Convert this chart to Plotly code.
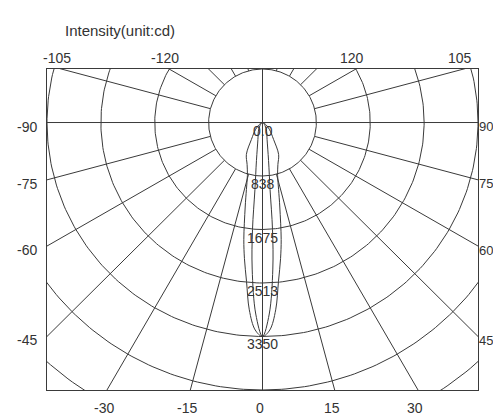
import numpy as np
import plotly.graph_objects as go

# Luminous intensity distribution (cd), angle measured from the beam axis (downwards)
outer_deg = [0, 2, 4, 5.7, 7.5, 9, 11.5, 13.4, 15.8, 20, 26.6, 33, 45, 60, 90]
outer_cd = [3350, 3250, 2940, 2500, 2150, 1856, 1350, 1080, 862, 700, 560, 316, 150, 50, 0]

inner_deg = [0, 2, 4, 5.3, 6.4, 9, 15, 25, 40, 90]
inner_cd = [3350, 3000, 2300, 1685, 1055, 600, 275, 150, 60, 0]

# Intensity rings and their labels
ring_values = [0, 838, 1675, 2513, 3350]
ring_labels = ["0.0", "838", "1675", "2513", "3350"]
ring_step = 837.5
ring_count = 6

# Angle grid and the tick labels along each border
spoke_step = 15
bottom_ticks = [-30, -15, 0, 15, 30]
side_ticks = [-90, -75, -60, -45, 45, 60, 75, 90]
top_ticks = [-105, -120, 120, 105]

# Visible window in intensity units
x_lim = 3350
y_top = 838
y_bot = -4188

LINE = "#3a3a3a"
TEXT = "#333333"
FONT = "Liberation Sans, Arial, sans-serif"


def to_xy(deg, r):
    t = np.radians(np.asarray(deg, dtype=float))
    r = np.asarray(r, dtype=float)
    return r * np.sin(t), -r * np.cos(t)


fig = go.Figure()


def add_line(x, y, width=1.0, shape="linear"):
    fig.add_trace(go.Scatter(x=x, y=y, mode="lines", hoverinfo="skip",
                             line=dict(color=LINE, width=width, shape=shape),
                             showlegend=False))


# rings
full = np.linspace(0, 360, 361)
for k in range(1, ring_count + 1):
    x, y = to_xy(full, np.full_like(full, k * ring_step))
    add_line(x, y)

# spokes, starting at the first ring
for a in range(spoke_step, 180, spoke_step):
    if a == 90:
        continue
    for s in (-1, 1):
        x, y = to_xy([s * a, s * a], [ring_step, 8000])
        add_line(x, y)

# main cross through the origin
add_line([-x_lim, x_lim], [0, 0])
add_line([0, 0], [y_bot, y_top])

# distribution curves, mirrored about the beam axis
for deg, cd in ((outer_deg, outer_cd), (inner_deg, inner_cd)):
    d = [-v for v in deg[::-1]] + deg[1:]
    c = cd[::-1] + cd[1:]
    x, y = to_xy(d, c)
    add_line(x, y, width=1.0, shape="spline")

ann = []
tfont = dict(family=FONT, size=14, color=TEXT)

# intensity labels on the axis
for v, lab in zip(ring_values, ring_labels):
    ann.append(dict(x=0, y=-v, text=lab, showarrow=False, font=tfont,
                    xanchor="center", yanchor="middle", yshift=-8))

# bottom border labels
for a in bottom_ticks:
    xb = -y_bot * np.tan(np.radians(a))
    ann.append(dict(x=xb, y=y_bot, text=str(a), showarrow=False, font=tfont,
                    xanchor="center", yanchor="top", yshift=-8, xshift=-3))

# left / right border labels
for a in side_ticks:
    s = 1 if a > 0 else -1
    r = x_lim / abs(np.sin(np.radians(a)))
    yb = -r * np.cos(np.radians(a))
    ann.append(dict(x=s * x_lim, y=yb, text=str(a), showarrow=False,
                    font=dict(family=FONT, size=14 if s < 0 else 13, color=TEXT),
                    xanchor="left" if s > 0 else "right", yanchor="middle",
                    xshift=-1 if s > 0 else -8, yshift=-4))

# top border labels
for a in top_ticks:
    r = -y_top / np.cos(np.radians(a))
    xb = r * np.sin(np.radians(a))
    ann.append(dict(x=xb, y=y_top, text=str(a), showarrow=False, font=tfont,
                    xanchor="center", yanchor="bottom", yshift=1, xshift=-4))

# title, positioned in pixels and converted to paper coordinates
plot_w = 493 - 47 - 15
plot_h = 415 - 69 - 25
ann.append(dict(x=(63 - 47) / plot_w, y=(415 - 25 - 30) / plot_h,
                xref="paper", yref="paper", text="Intensity(unit:cd)",
                showarrow=False, font=dict(family=FONT, size=15, color=TEXT),
                xanchor="left", yanchor="middle"))

fig.update_layout(
    width=493, height=415,
    margin=dict(l=47, r=15, t=69, b=25),
    paper_bgcolor="white", plot_bgcolor="white",
    annotations=ann,
    xaxis=dict(range=[-x_lim, x_lim], showgrid=False, zeroline=False,
               showticklabels=False, ticks="", showline=True, mirror=True,
               linecolor=LINE, linewidth=1),
    yaxis=dict(range=[y_bot, y_top], showgrid=False, zeroline=False,
               showticklabels=False, ticks="", showline=True, mirror=True,
               linecolor=LINE, linewidth=1),
)

fig.write_html("out.html")
